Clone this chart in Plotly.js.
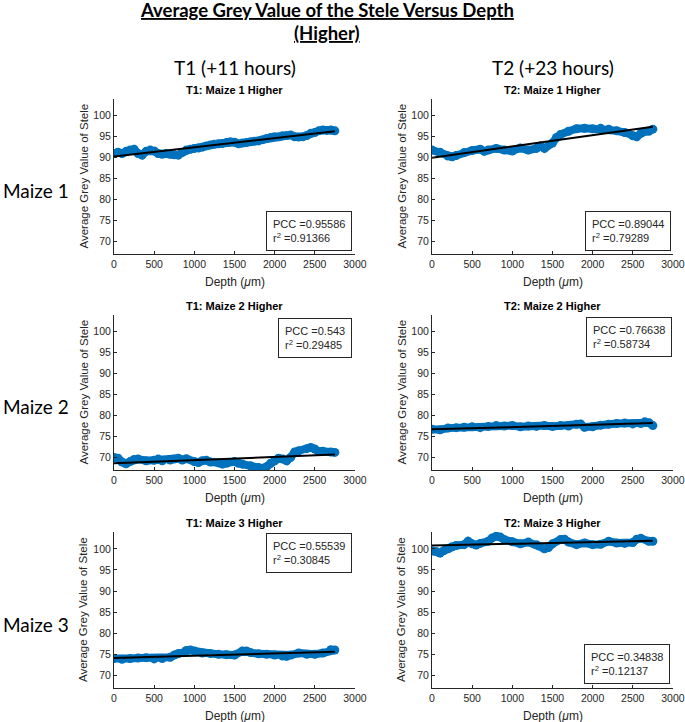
<!DOCTYPE html>
<html>
<head>
<meta charset="utf-8">
<script src="https://cdn.plot.ly/plotly-3.0.1.min.js"></script>
<style>html,body{margin:0;padding:0;background:#fff;}#chart{width:685px;height:722px;}</style>
</head>
<body>
<div id="chart"></div>
<script>
// ---- data ----
const t1m1Depth = [0,50,100,150,200,250,300,350,400,450,500,550,600,650,700,750,800,850,900,950,1000,1050,1100,1150,1200,1250,1300,1350,1400,1450,1500,1550,1600,1650,1700,1750,1800,1850,1900,1950,2000,2050,2100,2150,2200,2250,2300,2350,2400,2450,2500,2550,2600,2650,2700,2750];
const t1m1Grey  = [91.0,91.3,91.0,91.5,91.8,92.0,91.0,90.6,91.5,91.8,91.6,91.0,90.8,91.0,90.8,90.7,90.6,91.2,91.8,92.0,92.2,92.3,92.5,92.8,93.0,93.2,93.3,93.4,93.6,93.8,93.7,93.3,93.5,93.6,93.8,93.9,94.0,94.3,94.6,94.8,95.0,95.0,95.2,95.3,95.4,95.0,94.9,95.0,95.3,95.8,96.0,96.4,96.6,96.5,96.6,96.4];

const t2m1Depth = [0,100,200,250,300,400,500,600,650,700,800,900,1000,1100,1200,1300,1350,1400,1500,1550,1600,1700,1800,1900,2000,2100,2200,2300,2400,2500,2550,2600,2700,2750];
const t2m1Grey  = [91.8,91.3,90.4,90.2,90.5,91.2,91.7,92.0,91.5,91.8,92.2,91.8,91.6,92.3,91.8,92.2,92.8,92.2,93.5,94.8,95.5,96.3,96.9,97.0,96.9,97.0,96.8,96.4,96.0,95.2,95.0,95.8,96.3,96.8];

const t1m2Depth = [0,50,100,150,200,250,300,400,500,550,600,700,750,800,850,900,1000,1050,1100,1150,1200,1300,1350,1400,1500,1550,1600,1700,1800,1850,1900,1950,2000,2050,2100,2150,2200,2250,2300,2400,2450,2500,2550,2600,2700,2750];
const t1m2Grey  = [70.0,69.8,68.9,68.5,69.0,69.5,69.6,69.2,69.3,69.6,69.2,69.4,69.6,69.8,69.4,69.7,69.0,68.8,69.2,69.3,68.9,68.7,68.4,68.6,69.0,68.6,68.4,68.0,67.6,67.4,67.8,68.6,69.2,69.8,69.6,69.2,70.0,71.3,71.6,72.1,72.4,72.0,71.4,71.5,71.3,71.2];

const t2m2Depth = [0,100,200,300,400,500,600,700,800,900,1000,1100,1200,1300,1400,1500,1600,1700,1800,1850,1900,2000,2100,2200,2300,2400,2500,2600,2650,2700,2750];
const t2m2Grey  = [76.7,76.6,77.0,77.1,77.2,77.3,77.1,77.4,77.6,77.5,77.6,77.3,77.5,77.4,77.6,77.4,77.6,77.5,77.9,78.0,77.2,77.3,77.7,77.9,78.1,78.2,78.0,78.1,78.5,78.3,77.6];

const t1m3Depth = [0,100,200,300,400,500,600,700,750,800,900,950,1000,1100,1200,1300,1400,1500,1600,1650,1700,1800,1900,2000,2100,2150,2200,2300,2400,2500,2600,2700,2750];
const t1m3Grey  = [74.0,73.8,74.0,74.1,74.2,73.9,74.0,74.3,74.8,75.2,75.9,76.0,75.8,75.3,75.2,75.0,74.9,74.8,75.8,75.8,75.4,75.1,75.0,74.8,74.6,74.5,74.8,75.3,75.0,75.0,75.3,76.1,76.0];

const t2m3Depth = [0,50,100,150,200,250,300,400,450,500,550,600,700,750,800,850,900,1000,1100,1200,1300,1400,1450,1500,1600,1650,1700,1800,1900,2000,2100,2200,2300,2400,2500,2550,2600,2700,2750];
const t2m3Grey  = [99.5,99.4,99.0,99.6,100.0,100.5,100.8,101.0,101.8,101.2,100.9,101.3,101.8,102.6,103.0,102.8,102.2,101.7,101.2,101.6,101.0,100.0,100.3,101.2,102.2,102.3,101.6,101.0,101.4,101.0,101.1,101.8,101.4,101.3,101.5,102.3,102.5,101.8,101.8];

const fitDepth = [0, 2750];
const t1m1Fit = [90.3, 96.3];
const t2m1Fit = [90.0, 97.4];
const t1m2Fit = [68.6, 70.7];
const t2m2Fit = [76.7, 78.2];
const t1m3Fit = [74.1, 75.6];
const t2m3Fit = [100.8, 101.9];

const panelTitles = ["T1: Maize 1 Higher","T2: Maize 1 Higher","T1: Maize 2 Higher","T2: Maize 2 Higher","T1: Maize 3 Higher","T2: Maize 3 Higher"];
const pccValues = ["0.95586","0.89044","0.543","0.76638","0.55539","0.34838"];
const r2Values  = ["0.91366","0.79289","0.29485","0.58734","0.30845","0.12137"];
const columnLabels = ["T1 (+11 hours)","T2 (+23 hours)"];
const rowLabels = ["Maize 1","Maize 2","Maize 3"];
const xTickVals = [0,500,1000,1500,2000,2500,3000];
const yTickVals = [70,75,80,85,90,95,100];
const mainTitle = "Average Grey Value of the Stele Versus Depth";
const mainSubtitle = "(Higher)";

// ---- layout geometry ----
const W = 685, H = 722;
const colPx = [[114,355],[432,673]];
const rowPx = [[99,254],[315,470],[532,688]];
const boxPos = [ // [rightPx, edgePx, anchor]
  [352,251,'bottom'],[671,251,'bottom'],
  [352,318,'top'],[672,317,'top'],
  [352,533,'top'],[670,684,'bottom']
];
const series = [
  [t1m1Depth,t1m1Grey,t1m1Fit],[t2m1Depth,t2m1Grey,t2m1Fit],
  [t1m2Depth,t1m2Grey,t1m2Fit],[t2m2Depth,t2m2Grey,t2m2Fit],
  [t1m3Depth,t1m3Grey,t1m3Fit],[t2m3Depth,t2m3Grey,t2m3Fit]
];

const px = v => v / W;
const py = v => 1 - v / H;
const axisColor = '#262626';
const arial = '"Liberation Sans", Arial, Helvetica, sans-serif';
const tickFont = {family:arial, size:10.5, color:axisColor};
const calibri = 'Lato, "Open Sans", sans-serif';

const traces = [];
const layout = {
  width: W, height: H,
  margin: {l:0,r:0,t:0,b:0},
  paper_bgcolor:'#fff', plot_bgcolor:'#fff',
  showlegend:false,
  annotations: [],
  font: {family:arial}
};

series.forEach((s, i) => {
  const r = Math.floor(i/2), c = i % 2;
  const n = i + 1;
  const xa = n === 1 ? 'x' : 'x' + n;
  const ya = n === 1 ? 'y' : 'y' + n;
  const xKey = n === 1 ? 'xaxis' : 'xaxis' + n;
  const yKey = n === 1 ? 'yaxis' : 'yaxis' + n;
  traces.push({
    x: s[0], y: s[1], xaxis: xa, yaxis: ya, type: 'scatter', mode: 'lines+markers',
    line: {color:'#0072BD', width:8},
    marker: {color:'#0072BD', size:9},
    hoverinfo:'skip'
  });
  traces.push({
    x: fitDepth, y: s[2], xaxis: xa, yaxis: ya, type: 'scatter', mode: 'lines',
    line: {color:'#000', width:2}, hoverinfo:'skip'
  });
  layout[xKey] = {
    domain: [px(colPx[c][0]), px(colPx[c][1])],
    anchor: ya, range: [0,3001], tickvals: xTickVals, ticktext: xTickVals.map(String),
    showline:true, linecolor:axisColor, linewidth:1, mirror:false,
    ticks:'inside', ticklen:3, tickcolor:axisColor, ticklabeloverflow:'allow',
    showgrid:false, zeroline:false, tickfont: tickFont, fixedrange:true
  };
  layout[yKey] = {
    domain: [py(rowPx[r][1]), py(rowPx[r][0])],
    anchor: xa, range: [67,104], tickvals: yTickVals, ticktext: yTickVals.map(String),
    showline:true, linecolor:axisColor, linewidth:1, mirror:false,
    ticks:'inside', ticklen:3, tickcolor:axisColor,
    showgrid:false, zeroline:false, tickfont: tickFont, fixedrange:true
  };
  const cx = (colPx[c][0] + colPx[c][1]) / 2;
  layout.annotations.push({
    xref:'paper', yref:'paper', x: px(cx), y: py(rowPx[r][0] - 9),
    xanchor:'center', yanchor:'middle', showarrow:false,
    text:'<b>' + panelTitles[i] + '</b>', font:{family:arial, size:11, color:'#000'}
  });
  layout.annotations.push({
    xref:'paper', yref:'paper', x: px(cx), y: py(rowPx[r][1] + 28),
    xanchor:'center', yanchor:'middle', showarrow:false,
    text:'Depth (<i>μ</i>m)', font:{family:arial, size:12, color:axisColor}
  });
  layout.annotations.push({
    xref:'paper', yref:'paper', x: px(colPx[c][0] - 31), y: py((rowPx[r][0] + rowPx[r][1]) / 2),
    xanchor:'center', yanchor:'middle', showarrow:false, textangle:-90,
    text:'Average Grey Value of Stele', font:{family:arial, size:11.5, color:axisColor}
  });
  const b = boxPos[i];
  layout.annotations.push({
    xref:'paper', yref:'paper', x: px(b[0]), y: py(b[1]),
    xanchor:'right', yanchor: b[2], showarrow:false, align:'left',
    text:'PCC =' + pccValues[i] + '<br>r<sup>2</sup> =' + r2Values[i],
    font:{family:arial, size:11, color:axisColor},
    bordercolor:axisColor, borderwidth:1, borderpad:6, bgcolor:'#fff'
  });
});

layout.annotations.push({
  xref:'paper', yref:'paper', x: px(327), y: py(10), xanchor:'center', yanchor:'middle', showarrow:false,
  text:'<b><u>' + mainTitle + '</u></b>', font:{family:calibri, size:18.5, color:'#000'}
});
layout.annotations.push({
  xref:'paper', yref:'paper', x: px(327), y: py(33), xanchor:'center', yanchor:'middle', showarrow:false,
  text:'<b><u>' + mainSubtitle + '</u></b>', font:{family:calibri, size:18.5, color:'#000'}
});
columnLabels.forEach((t, c) => {
  layout.annotations.push({
    xref:'paper', yref:'paper', x: px((colPx[c][0] + colPx[c][1]) / 2), y: py(67),
    xanchor:'center', yanchor:'middle', showarrow:false,
    text: t, font:{family:calibri, size:19, color:'#000'}
  });
});
rowLabels.forEach((t, r) => {
  layout.annotations.push({
    xref:'paper', yref:'paper', x: px(1), y: py((rowPx[r][0] + rowPx[r][1]) / 2 + 14),
    xanchor:'left', yanchor:'middle', showarrow:false,
    text: t, font:{family:calibri, size:19, color:'#000'}
  });
});

Plotly.newPlot('chart', traces, layout, {displayModeBar:false, staticPlot:true});
</script>
</body>
</html>
